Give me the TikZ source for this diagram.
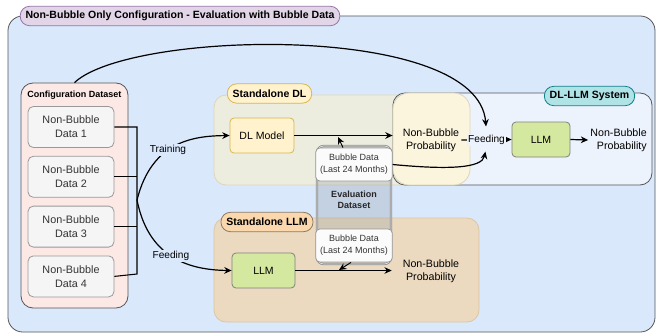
\documentclass[tikz,border=0pt]{standalone}
\usepackage{fontspec}
\setmainfont{Liberation Sans}
\usepackage{xcolor}
\usetikzlibrary{arrows.meta,positioning,fit,calc}

\definecolor{outerbg}{HTML}{DAE8FC}
\definecolor{outerln}{HTML}{555555}
\definecolor{titlebg}{HTML}{E1D5E7}
\definecolor{titleln}{HTML}{9673A6}
\definecolor{cfgbg}{HTML}{FCE8E4}
\definecolor{itembg}{HTML}{F5F5F5}
\definecolor{itemln}{HTML}{999999}
\definecolor{dlbg}{HTML}{EDEDDF}
\definecolor{dlln}{HTML}{DCD6B8}
\definecolor{ybg}{HTML}{FFF2CC}
\definecolor{yln}{HTML}{D6B656}
\definecolor{ypale}{HTML}{FCF5DE}
\definecolor{sysbg}{HTML}{EDF3FC}
\definecolor{tealbg}{HTML}{B0E3E6}
\definecolor{tealln}{HTML}{0E8088}
\definecolor{llmbg}{HTML}{D5E8A0}
\definecolor{llmln}{HTML}{808080}
\definecolor{slbg}{HTML}{EBDAC0}
\definecolor{slln}{HTML}{DCC6A4}
\definecolor{orbg}{HTML}{FAD7AC}
\definecolor{orln}{HTML}{8C7A66}
\definecolor{evalbg}{HTML}{8C96A0}
\definecolor{evalln}{HTML}{8A8A8A}

\begin{document}
\begin{tikzpicture}[x=0.75pt, y=-0.75pt,
  grp/.style={draw=outerln, line width=0.6pt, rounded corners=9pt, inner sep=0pt},
  tag/.style={draw, line width=0.6pt, rounded corners=7pt, font=\bfseries\fontsize{7.9}{9}\selectfont, minimum height=14.5pt, inner xsep=4pt, inner ysep=0pt},
  item/.style={draw=itemln, fill=itembg, line width=0.6pt, rounded corners=4pt, align=center, font=\fontsize{8.1}{10.5}\selectfont, text=black!80, minimum width=64.5pt, minimum height=30.75pt},
  mdl/.style={draw=llmln, fill=llmbg, line width=0.6pt, rounded corners=3pt, font=\fontsize{7.9}{9}\selectfont, minimum height=26.25pt},
  bub/.style={draw=itemln, fill=white!97!gray, line width=0.6pt, rounded corners=3pt, align=center, font=\fontsize{6.75}{8.75}\selectfont, text=black!80, minimum width=51pt, minimum height=24.75pt},
  txt/.style={align=center, font=\fontsize{8}{10}\selectfont, inner sep=1.5pt},
  lbl/.style={fill=outerbg, inner sep=1pt, font=\fontsize{7.6}{9}\selectfont},
  arr/.style={-{Stealth[length=5.5pt, width=5pt]}, line width=0.9pt}]
\useasboundingbox (0,0) rectangle (657,335);

% outer frame
\node[grp, fill=outerbg, rounded corners=11pt, fit={(8,16) (655,332)}] (frame) {};
\node[tag, fill=titlebg, draw=titleln] (title) at (180,16) {Non-Bubble Only Configuration - Evaluation with Bubble Data};

% configuration dataset
\node[grp, fill=cfgbg, fit={(21,83) (128,308)}] (cfg) {};
\node[font=\bfseries\fontsize{6.75}{8}\selectfont, inner sep=0pt] (cfgt) at (74.5,95) {Configuration Dataset};
\node[item] (d1) at (71,127) {Non-Bubble\\Data 1};
\node[item, below=6pt of d1] (d2) {Non-Bubble\\Data 2};
\node[item, below=6pt of d2] (d3) {Non-Bubble\\Data 3};
\node[item, below=6pt of d3] (d4) {Non-Bubble\\Data 4};

% standalone DL and DL-LLM system
\node[grp, draw=dlln, fill=dlbg, fit={(214,95) (470,185)}] (sdl) {};
\node[grp, fill=sysbg, fit={(393,93) (652,185)}] (sys) {};
\node[grp, draw=dlln, fill=ypale, rounded corners=12pt, fit={(393,93) (470,185)}] (dlout) {};
\node[tag, fill=ybg, draw=yln] (sdlt) at (269.5,93.5) {Standalone DL};
\node[tag, fill=tealbg, draw=tealln] (syst) at (589.5,96) {DL-LLM System};
\node[mdl, draw=yln, fill=ybg, minimum width=48pt] (dlm) at (262,135.5) {DL Model};
\node[txt] (dlprob) at (431,140) {Non-Bubble\\Probability};
\node[mdl, minimum width=43.5pt] (llm2) at (541,139.5) {LLM};
\node[txt, align=right, anchor=east] (out2) at (649,140) {Non-Bubble\\Probability};

% standalone LLM
\node[grp, draw=slln, fill=slbg, fit={(214,218) (479,322)}] (sllm) {};
\node[tag, fill=orbg, draw=orln] (sllmt) at (267,222) {Standalone LLM};
\node[mdl, minimum width=47.25pt] (llm1) at (263.5,270.5) {LLM};
\node[txt, minimum width=58.5pt] (out1) at (431,271.5) {Non-Bubble\\Probability};

% evaluation dataset
\node[grp, draw=evalln, fill=evalbg, fill opacity=0.28, double=white!85!gray, double distance=0.5pt, rounded corners=5pt, fit={(317,146) (391,264)}] (eval) {};
\node[bub] (bd1) at (354,164.5) {Bubble Data\\(Last 24 Months)};
\node[bub] (bd2) at (354,245.5) {Bubble Data\\(Last 24 Months)};
\node[align=center, font=\bfseries\fontsize{6.75}{8.25}\selectfont, text=black!85] (evalt) at (354,200) {Evaluation\\Dataset};

% bus from the data boxes
\coordinate (bt) at (137,127);
\coordinate (bb) at (137,274);
\coordinate (bus) at (137,200);
\draw[line width=0.8pt] (d1.east) -- (bt) -- (bb) -- (d4.east);
\draw[line width=0.8pt] (d2.east) -- (d2.east -| bt);
\draw[line width=0.8pt] (d3.east) -- (d3.east -| bt);

\draw[arr] (bus) .. controls (152,140) and (195,136) .. node[lbl, pos=0.42] (train) {Training} (dlm.west);
\draw[arr] (bus) .. controls (148,255) and (185,270) .. node[lbl, pos=0.5] (feed1) {Feeding} (llm1.west);

% flows
\draw[arr] (dlm.east) -- (dlm.east -| dlout.west);
\draw[arr] (dlprob.east) -- node[fill=sysbg, inner sep=1pt, font=\fontsize{7.6}{9}\selectfont] (feed) {Feeding} (llm2.west);
\draw[arr] (llm2.east) -- (out2.west);
\draw[arr] (llm1.east) -- (llm1.east -| out1.west);
\draw[arr, shorten >=5pt] (cfg.north) .. controls (130,30) and (478,22) .. (feed.north);
\draw[arr, shorten >=4pt] (bd1.east) .. controls (450,170) and (482,168) .. (feed.south);
\coordinate (tip1) at (338,137);
\coordinate (tip2) at (339,270);
\draw[arr, line width=0.7pt] ($(bd1.north)+(-11,0)$) -- (tip1);
\draw[arr, line width=0.7pt] ($(bd2.south)+(-3,0)$) -- (tip2);
\end{tikzpicture}
\end{document}
